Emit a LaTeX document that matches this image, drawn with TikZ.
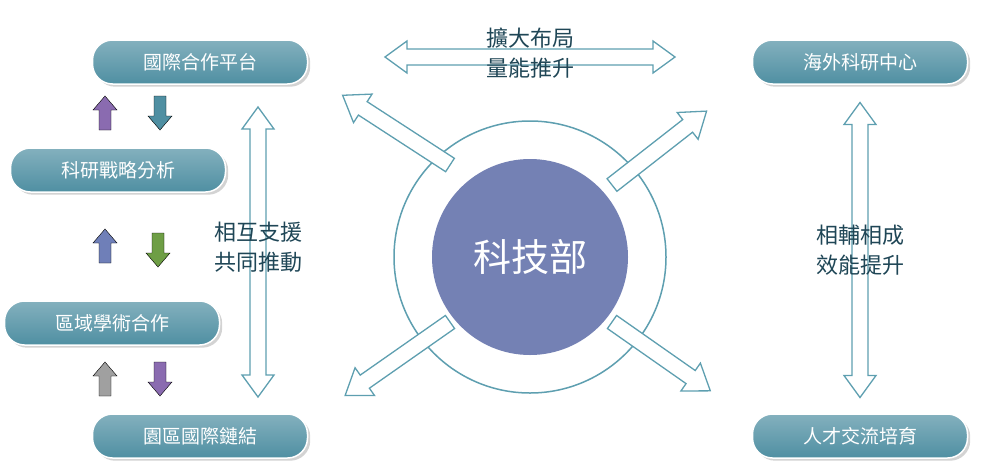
\documentclass[tikz,border=0pt]{standalone}
\usepackage{fontspec}
\setmainfont{Noto Sans CJK TC}
\usetikzlibrary{positioning}
\usetikzlibrary{shadows}
\definecolor{tealbox}{HTML}{4F8FA2}
\definecolor{tealline}{HTML}{5E9FB0}
\definecolor{textdark}{HTML}{1F4656}
\definecolor{purplearr}{HTML}{8A6BB0}
\definecolor{bluearr}{HTML}{6F7FB8}
\definecolor{greenarr}{HTML}{6E9E45}
\definecolor{grayarr}{HTML}{A0A0A0}
\definecolor{centre}{HTML}{7481B4}
\tikzset{
  pill/.style={rounded corners=20pt, minimum height=44pt, minimum width=215pt,
    top color=tealbox!70, bottom color=tealbox, draw=white, line width=1.5pt,
    text=white, font=\fontsize{19}{21}\selectfont, drop shadow={opacity=0.35}},
  outline/.style={draw=tealline, fill=white, line width=1.3pt, line join=miter},
  label/.style={text=textdark, font=\fontsize{22}{24}\selectfont, align=center}
}
% tail point, angle, length, half shaft, half head, head length, style
\newcommand\blockarrow[7]{%
  \draw[#7, shift={#1}, rotate=#2] (0,-#4) -- ({#3-#6},-#4) -- ({#3-#6},-#5)
    -- (#3,0) -- ({#3-#6},#5) -- ({#3-#6},#4) -- (0,#4) -- cycle;}
% centre point, angle, length, half shaft, half head, head length
\newcommand\twowayarrow[6]{%
  \draw[outline, shift={#1}, rotate=#2] ({-#3/2},0) -- ({-#3/2+#6},-#5)
    -- ({-#3/2+#6},-#4) -- ({#3/2-#6},-#4) -- ({#3/2-#6},-#5) -- ({#3/2},0)
    -- ({#3/2-#6},#5) -- ({#3/2-#6},#4) -- ({-#3/2+#6},#4) -- ({-#3/2+#6},#5) -- cycle;}
\begin{document}
\begin{tikzpicture}[x=1pt,y=-1pt]
\useasboundingbox (0,0) rectangle (982,469);
% side arrows
\twowayarrow{(258,252)}{90}{290}{8}{16}{22}
\twowayarrow{(860,250)}{90}{295}{8}{16}{22}
\twowayarrow{(530,57)}{0}{290}{8}{16}{22}
% boxes
\node[pill] (intl) at (200,62) {國際合作平台};
\node[pill] (strategy) at (118,170) {科研戰略分析};
\node[pill] (region) at (112,323) {區域學術合作};
\node[pill] (park) at (200,436) {園區國際鏈結};
\node[pill] (overseas) at (860,62) {海外科研中心};
\node[pill] (talent) at (860,436) {人才交流培育};
% small arrows
\blockarrow{(105,130)}{90}{34}{6}{12}{14}{fill=purplearr}
\blockarrow{(160,96)}{-90}{34}{6}{12}{14}{fill=tealbox}
\blockarrow{(105,263)}{90}{34}{6}{12}{14}{fill=bluearr}
\blockarrow{(158,233)}{-90}{34}{6}{12}{14}{fill=greenarr}
\blockarrow{(105,396)}{90}{34}{6}{12}{14}{fill=grayarr}
\blockarrow{(160,362)}{-90}{34}{6}{12}{14}{fill=purplearr}
% centre
\node[circle, draw=tealline, line width=1.5pt, fill=white, minimum size=272pt] (ring) at (530,257) {};
\blockarrow{(450,165)}{147}{128}{8}{17}{24}{outline}
\blockarrow{(612,185)}{38}{120}{8}{17}{24}{outline}
\blockarrow{(450,322)}{-145}{128}{8}{17}{24}{outline}
\blockarrow{(612,322)}{-35}{120}{8}{17}{24}{outline}
\node[circle, fill=centre, minimum size=196pt, text=white,
  font=\fontsize{38}{40}\selectfont] (most) at (530,257) {科技部};
% labels
\node[label] (support) at (258,247) {相互支援\\[6pt]共同推動};
\node[label] (expand) at (530,53) {擴大布局\\[6pt]量能推升};
\node[label] (synergy) at (860,250) {相輔相成\\[6pt]效能提升};
\end{tikzpicture}
\end{document}
